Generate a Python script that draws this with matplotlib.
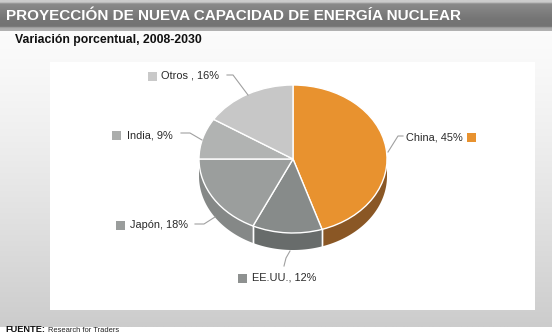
import numpy as np
import matplotlib
matplotlib.use("Agg")
import matplotlib.pyplot as plt
from matplotlib.patches import Polygon, Rectangle

# ---------------- data ----------------
title = "PROYECCIÓN DE NUEVA CAPACIDAD DE ENERGÍA NUCLEAR"
subtitle = "Variación porcentual, 2008-2030"
source_label = "FUENTE:"
source_text = "Research for Traders"

categories = ["China", "EE.UU.", "Japón", "India", "Otros "]
values = [45, 12, 18, 9, 16]

top_colors = ["#E8922F", "#878B8A", "#9B9E9D", "#B1B3B2", "#C7C7C7"]
side_colors = ["#8A5725", "#686C6B", "#858887", "#9A9C9B", "#AFAFAF"]
marker_colors = ["#E8922F", "#8E9190", "#9A9D9C", "#ABADAC", "#C9C9C9"]

W, H = 552, 336
fig = plt.figure(figsize=(W / 100, H / 100), dpi=100)

title_family = "Liberation Sans"
label_family = "Liberation Sans"

# ---------------- background ----------------
bg = fig.add_axes([0, 0, 1, 1], zorder=0)
bg.set_xlim(0, W)
bg.set_ylim(H, 0)
bg.axis("off")

grad = np.linspace(0, 1, 256)[:, None]
c_top = np.array([0.985, 0.985, 0.985])
c_bot = np.array([0.80, 0.80, 0.80])
img = c_top[None, None, :] * (1 - grad[..., None] ** 1.3) + c_bot[None, None, :] * (grad[..., None] ** 1.3)
img = np.repeat(img, 2, axis=1)
bg.imshow(img, extent=[0, W, 327, 31], aspect="auto", zorder=0, interpolation="bilinear")
bg.add_patch(Rectangle((0, 327), W, H - 327, facecolor="white", edgecolor="none", zorder=1))

tb = np.linspace(0, 1, 64)[:, None]
tcol = np.interp(tb, [0, 0.06, 0.12, 0.6, 0.86, 0.9, 1.0],
                 [0.80, 0.80, 0.54, 0.46, 0.45, 0.66, 0.70])
timg = np.repeat(np.repeat(tcol[..., None], 3, axis=2), 2, axis=1)
bg.imshow(timg, extent=[0, W, 31, 0], aspect="auto", zorder=1, interpolation="bilinear", vmin=0, vmax=1)

bg.add_patch(Rectangle((50, 62), 485, 248, facecolor="white", edgecolor="none", zorder=2))

# ---------------- pie (3D look) ----------------
cx, cy, rx, ry = 293, 159, 94, 74
depth = 17 / ry
x0, x1 = -1.25, 1.25
y0, y1 = -1.6, 1.25
left_px = cx + x0 * rx
bottom_px = cy - y0 * ry
pax = fig.add_axes([left_px / W, 1 - bottom_px / H, (x1 - x0) * rx / W, (y1 - y0) * ry / H], zorder=2)
pax.patch.set_alpha(0)

fracs = np.array(values, dtype=float) / np.sum(values)
cum = np.concatenate([[0], np.cumsum(fracs)])
for i in range(len(values)):
    a_start = 90 - 360 * cum[i + 1]
    a_end = 90 - 360 * cum[i]
    th = np.radians(np.linspace(a_start, a_end, 200))
    vis = np.sin(th) <= 1e-9
    if vis.sum() < 2:
        continue
    t = th[vis]
    top = np.column_stack([np.cos(t), np.sin(t)])
    bot = np.column_stack([np.cos(t[::-1]), np.sin(t[::-1]) - depth])
    pax.add_patch(Polygon(np.vstack([top, bot]), closed=True, facecolor=side_colors[i],
                          edgecolor="none", zorder=1))
    for a in (a_start, a_end):
        ar = np.radians(a)
        if np.sin(ar) < -1e-6 and abs(np.cos(ar)) < 0.999:
            pax.plot([np.cos(ar), np.cos(ar)], [np.sin(ar), np.sin(ar) - depth],
                     color="white", lw=1.0, zorder=2)

pax.pie(values, colors=top_colors, startangle=90, counterclock=False, radius=1.0,
        wedgeprops=dict(edgecolor="white", linewidth=1.0), frame=False)
pax.set_aspect("auto")
pax.set_xlim(x0, x1)
pax.set_ylim(y0, y1)
pax.axis("off")
for p in pax.patches[-len(values):]:
    p.set_zorder(3)

# ---------------- labels ----------------
ov = fig.add_axes([0, 0, 1, 1], zorder=3)
ov.set_xlim(0, W)
ov.set_ylim(H, 0)
ov.axis("off")
ov.patch.set_alpha(0)

renderer = fig.canvas.get_renderer()


def fit_text(t, target_w):
    bb = t.get_window_extent(renderer=renderer)
    t.set_fontsize(t.get_fontsize() * target_w / bb.width)
    return t.get_fontsize()


labels = [f"{c}, {v}%" for c, v in zip(categories, values)]
probe = ov.text(0, 0, labels[0], fontsize=9, family=label_family)
label_fs = fit_text(probe, 57)
probe.remove()

layout = [
    (406, 137, 471, [(403, 136), (398, 136), (388, 152)]),
    (252, 278, 242, [(284, 266), (286, 258), (290, 251)]),
    (130, 225, 120, [(195, 224), (204, 224), (215, 217)]),
    (127, 135, 116, [(181, 133), (190, 133), (202, 140)]),
    (161, 76, 152, [(227, 75), (233, 75), (248, 95)]),
]
for i, (tx, ty, mx, pts) in enumerate(layout):
    ov.text(tx, ty, labels[i], fontsize=label_fs, family=[label_family, "DejaVu Sans"],
            color="#2a2a2a", ha="left", va="center")
    ov.add_patch(Rectangle((mx - 4.5, ty - 4.5), 9, 9, facecolor=marker_colors[i],
                           edgecolor="none"))
    xs, ys = zip(*pts)
    ov.plot(xs, ys, color="#a0a0a0", lw=0.8)

# ---------------- titles ----------------
tt = ov.text(6, 16, title, fontsize=13, fontweight="bold", color="white",
             family=title_family, ha="left", va="center")
fit_text(tt, 456)
st = ov.text(15, 40, subtitle, fontsize=9, fontweight="bold", color="#111111",
             family=title_family, ha="left", va="center")
fit_text(st, 187)
ft = ov.text(5, 330, source_label, fontsize=6, fontweight="bold", color="#111111",
             family=title_family, ha="left", va="center")
fit_text(ft, 40)
rt = ov.text(48, 330, source_text, fontsize=6, color="#222222",
             family="Liberation Sans", ha="left", va="center")
fit_text(rt, 72)

fig.savefig("out.png", dpi=100)
